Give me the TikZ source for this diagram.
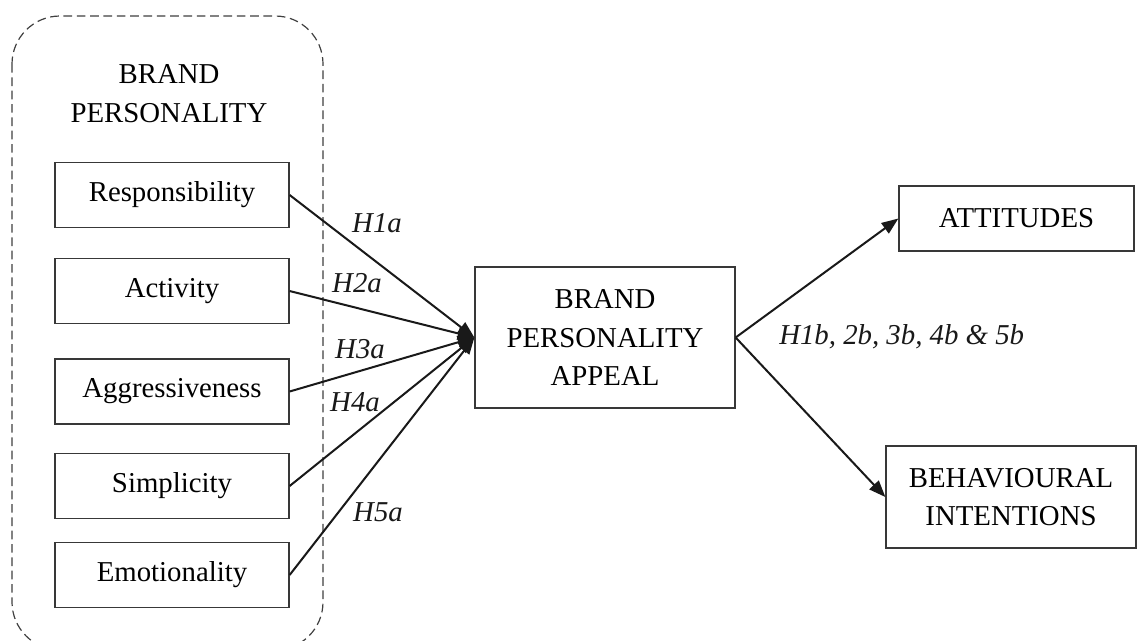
\documentclass[tikz,border=0pt]{standalone}
\usepackage{fontspec}
\setmainfont{Liberation Serif}
\usetikzlibrary{arrows.meta}
\begin{document}
\begin{tikzpicture}[x=0.75pt,y=-0.75pt,
  txt/.style={font=\fontsize{21.6pt}{29pt}\selectfont, text=black, align=center, inner sep=0pt},
  box/.style={txt, draw=black!78, line width=0.95pt},
  lbl/.style={font=\fontsize{21.6pt}{29pt}\selectfont\itshape, text=black!90, inner sep=0pt},
  conn/.style={draw=black!90, line width=1.5pt, -{Triangle[length=12.5pt,width=9.5pt]}},
  group/.style={draw=black!75, line width=0.9pt, dash pattern=on 6.5pt off 3.5pt, rounded corners=36pt}
]
\useasboundingbox (0,0) rectangle (1137,640);
\clip (0,0) rectangle (1137,640);
\fill[white] (0,0) rectangle (1137,640);

% dashed group
\draw[group] (12,16) rectangle (323,650);
\node[txt] (title) at (169,93.5) {BRAND\\PERSONALITY};

% left boxes
\node[box, minimum width=175.5pt, minimum height=48.75pt] (resp) at (172,195) {Responsibility};
\node[box, minimum width=175.5pt, minimum height=48.75pt] (act) at (172,291) {Activity};
\node[box, minimum width=175.5pt, minimum height=48.75pt] (aggr) at (172,391.5) {Aggressiveness};
\node[box, minimum width=175.5pt, minimum height=48.75pt] (simp) at (172,486) {Simplicity};
\node[box, minimum width=175.5pt, minimum height=48.75pt] (emo) at (172,575) {Emotionality};

% central box
\node[box, minimum width=195pt, minimum height=105.75pt] (bpa) at (605,337.5) {BRAND\\PERSONALITY\\APPEAL};

% outcome boxes
\node[box, minimum width=176.25pt, minimum height=48.75pt] (att) at (1016.5,218.5) {ATTITUDES};
\node[box, minimum width=187.5pt, minimum height=76.5pt] (bi) at (1011,497) {BEHAVIOURAL\\INTENTIONS};

% connectors
\draw[conn] (resp.east) -- (bpa.west);
\draw[conn] (act.east) -- (bpa.west);
\draw[conn] (aggr.east) -- (bpa.west);
\draw[conn] (simp.east) -- (bpa.west);
\draw[conn] (emo.east) -- (bpa.west);
\draw[conn] (bpa.east) -- (att.west);
\draw[conn] (bpa.east) -- (bi.west);

% labels
\node[lbl] (h1a) at (377,223) {H1a};
\node[lbl] (h2a) at (357,283) {H2a};
\node[lbl] (h3a) at (360,349) {H3a};
\node[lbl] (h4a) at (355,402) {H4a};
\node[lbl] (h5a) at (378,512) {H5a};
\node[lbl, anchor=west] (hb) at (779,337) {H1b, 2b, 3b, 4b \& 5b};
\end{tikzpicture}
\end{document}
